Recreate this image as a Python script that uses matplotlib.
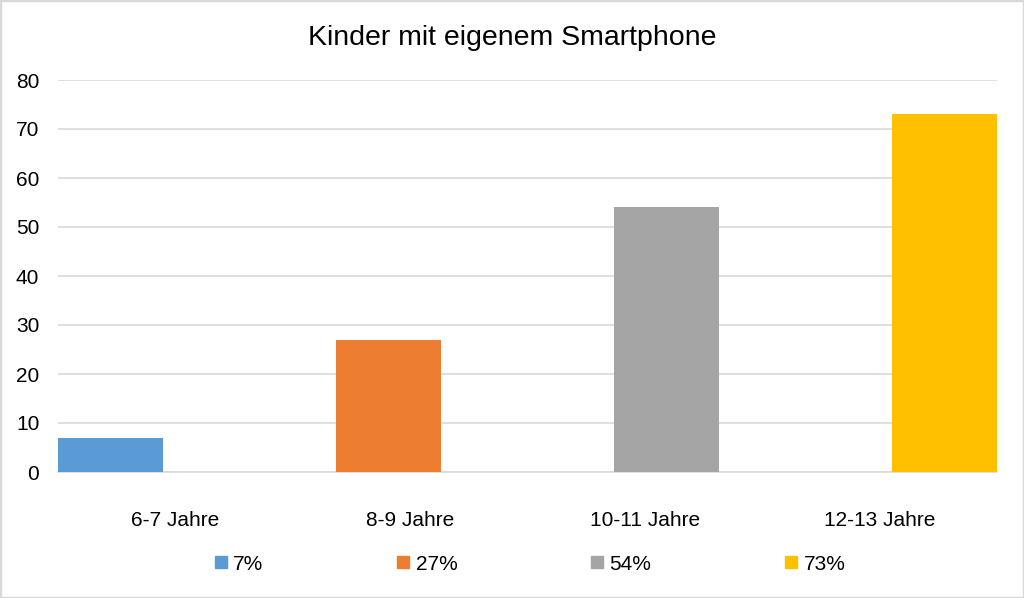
import matplotlib
matplotlib.use("Agg")
import matplotlib.pyplot as plt
from matplotlib.patches import Rectangle
import numpy as np

plt.rcParams['font.family'] = ['Liberation Sans', 'DejaVu Sans']

title = "Kinder mit eigenem Smartphone"
categories = ["6-7 Jahre", "8-9 Jahre", "10-11 Jahre", "12-13 Jahre"]
series_labels = ["7%", "27%", "54%", "73%"]
series_7 = [7, 0, 0, 0]
series_27 = [0, 27, 0, 0]
series_54 = [0, 0, 54, 0]
series_73 = [0, 0, 0, 73]
series_values = [series_7, series_27, series_54, series_73]
colors = ["#5B9BD5", "#ED7D31", "#A5A5A5", "#FFC000"]
yticks = [0, 10, 20, 30, 40, 50, 60, 70, 80]

fig = plt.figure(figsize=(10.24, 5.98), dpi=100)
ax = fig.add_axes([58/1024, 1-472/598, (997-58)/1024, (472-80)/598])

x = np.arange(len(categories))
width = 105/234.75
step = (1 - width) / 3
for i, (vals, lab, col) in enumerate(zip(series_values, series_labels, colors)):
    offs = -0.5 + width/2 + i*step
    ax.bar(x + offs, vals, width=width, color=col, label=lab, linewidth=0, zorder=3)

ax.set_xlim(-0.5, len(categories) - 0.5)
ax.set_ylim(0, 80)
ax.set_yticks(yticks)
ax.set_xticks(x)
ax.set_xticklabels(categories)
ax.grid(axis='y', color='#d9d9d9', linewidth=1.2, zorder=0)
for s in ['top', 'right', 'left']:
    ax.spines[s].set_visible(False)
ax.spines['bottom'].set_color('#d9d9d9')
ax.spines['bottom'].set_linewidth(1.2)
ax.tick_params(axis='both', length=0, labelsize=15, colors='#000000')
ax.tick_params(axis='x', pad=28)
ax.tick_params(axis='y', pad=13.5)

fig.text(0.5, 1-38/598, title, ha='center', va='center', fontsize=20.5)

handles = [plt.Line2D([], [], marker='s', linestyle='none', markersize=8,
                      color=c) for c in colors]
fig.legend(handles, series_labels, loc='center', bbox_to_anchor=(530/1024, 1-564/598),
           ncol=4, frameon=False, fontsize=15, handletextpad=0.3,
           columnspacing=6.4, handlelength=0.6, borderpad=0, borderaxespad=0)

fig.add_artist(Rectangle((0, 0), 1, 1, transform=fig.transFigure, fill=False,
                         edgecolor='#d9d9d9', linewidth=2.5))

fig.savefig("out.png", dpi=100)
